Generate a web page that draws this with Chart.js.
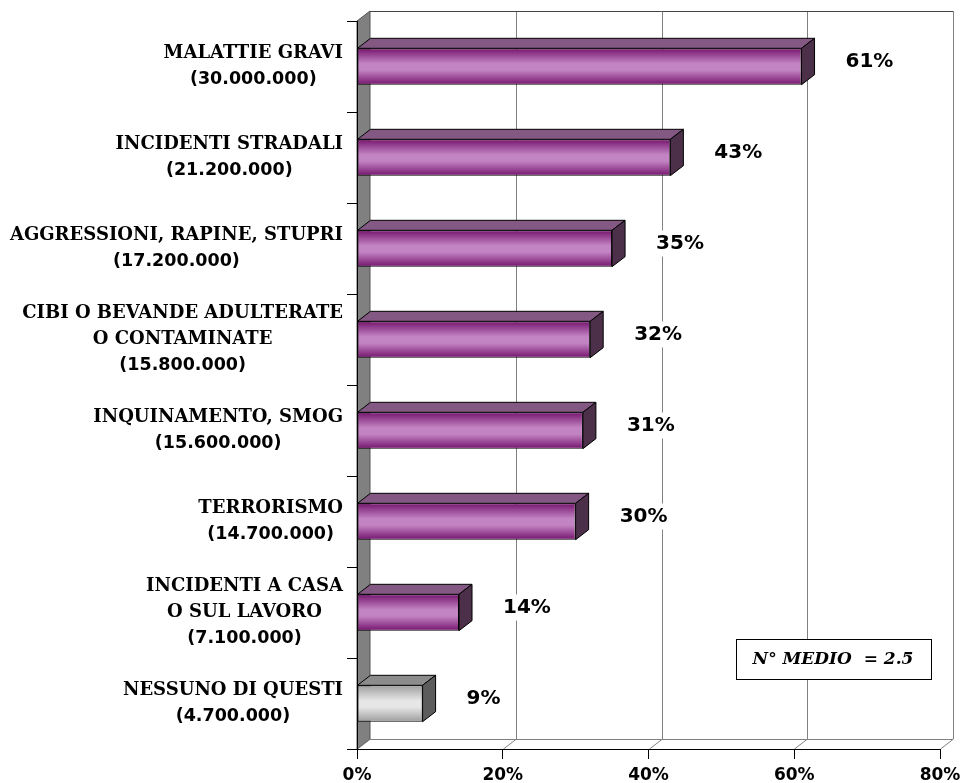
<!DOCTYPE html>
<html>
<head>
<meta charset="utf-8">
<script src="https://cdn.jsdelivr.net/npm/chart.js@4.4.0/dist/chart.umd.min.js"></script>
<style>
  body { margin: 0; background: #fff; }
  #wrap { width: 962px; height: 783px; }
</style>
</head>
<body>
<div id="wrap"><canvas id="myChart"></canvas></div>
<script>
      // data
      const categories = [
        ["MALATTIE GRAVI"],
        ["INCIDENTI STRADALI"],
        ["AGGRESSIONI, RAPINE, STUPRI"],
        ["CIBI O BEVANDE ADULTERATE", "O CONTAMINATE"],
        ["INQUINAMENTO, SMOG"],
        ["TERRORISMO"],
        ["INCIDENTI A CASA", "O SUL LAVORO"],
        ["NESSUNO DI QUESTI"]
      ];
      const counts = ["(30.000.000)", "(21.200.000)", "(17.200.000)", "(15.800.000)",
                      "(15.600.000)", "(14.700.000)", "(7.100.000)", "(4.700.000)"];
      const values = [61, 43, 35, 32, 31, 30, 14, 9];
      const xTicks = [0, 20, 40, 60, 80];
      const note = "N° MEDIO  = 2.5";

      // styles
      const DX = 13, DY = 10;
      const purple = { lo: "#76166f", hi: "#c384c3", top: "#835883", side: "#4c3049" };
      const grey = { lo: "#9e9e9e", hi: "#e6e6e6", top: "#8c8c8c", side: "#5c5c5c" };
      const barStyle = values.map((v, i) => i == values.length - 1 ? grey : purple);

      function frontFill(c) {
        const ch = c.chart, ys = ch.scales.y;
        const st = barStyle[c.dataIndex];
        if (!ys || !ch.chartArea) return st.hi;
        const yc = ys.getPixelForValue(c.dataIndex);
        const g = ch.ctx.createLinearGradient(0, yc - 18, 0, yc + 18);
        g.addColorStop(0, st.lo);
        g.addColorStop(0.42, st.hi);
        g.addColorStop(0.6, st.hi);
        g.addColorStop(1, st.lo);
        return g;
      }

      const box3d = {
        id: "box3d",
        beforeDraw(chart) {
          const ctx = chart.ctx, a = chart.chartArea, xs = chart.scales.x;
          const L = a.left, R = a.right, T = a.top, B = a.bottom;
          ctx.save();
          // back wall
          ctx.fillStyle = "#fff";
          ctx.fillRect(L + DX, T - DY, R - L, B - T);
          // left wall
          ctx.fillStyle = "#808080";
          ctx.beginPath();
          ctx.moveTo(L, T); ctx.lineTo(L + DX, T - DY); ctx.lineTo(L + DX, B - DY); ctx.lineTo(L, B);
          ctx.closePath(); ctx.fill();
          ctx.strokeStyle = "#555"; ctx.lineWidth = 1; ctx.stroke();
          // grid on back wall + floor
          ctx.strokeStyle = "#808080";
          xTicks.forEach(v => {
            const x = Math.round(xs.getPixelForValue(v)) + 0.5;
            ctx.beginPath();
            if (v > 0 && v < 80) { ctx.moveTo(x + DX, T - DY); ctx.lineTo(x + DX, B - DY); }
            ctx.moveTo(x, B); ctx.lineTo(x + DX, B - DY);
            ctx.stroke();
          });
          ctx.beginPath();
          ctx.moveTo(L + DX, B - DY + 0.5); ctx.lineTo(R + DX, B - DY + 0.5);
          ctx.moveTo(R + DX + 0.5, B - DY); ctx.lineTo(R + DX + 0.5, T - DY);
          ctx.stroke();
          ctx.strokeStyle = "#444";
          ctx.beginPath();
          ctx.moveTo(L + DX, T - DY + 0.5); ctx.lineTo(R + DX, T - DY + 0.5);
          ctx.stroke();
          ctx.restore();
        },
        afterDatasetsDraw(chart) {
          const ctx = chart.ctx;
          const meta = chart.getDatasetMeta(0);
          ctx.save();
          ctx.lineWidth = 1;
          ctx.strokeStyle = "#000";
          meta.data.forEach((bar, i) => {
            const st = barStyle[i];
            const x0 = bar.base, x1 = bar.x;
            const top = bar.y - bar.height / 2, bot = bar.y + bar.height / 2;
            // top face
            ctx.fillStyle = st.top;
            ctx.beginPath();
            ctx.moveTo(x0, top); ctx.lineTo(x0 + DX, top - DY); ctx.lineTo(x1 + DX, top - DY); ctx.lineTo(x1, top);
            ctx.closePath(); ctx.fill(); ctx.stroke();
            // right face
            ctx.fillStyle = st.side;
            ctx.beginPath();
            ctx.moveTo(x1, top); ctx.lineTo(x1 + DX, top - DY); ctx.lineTo(x1 + DX, bot - DY); ctx.lineTo(x1, bot);
            ctx.closePath(); ctx.fill(); ctx.stroke();
            // value label
            const txt = values[i] + "%";
            ctx.font = "bold 20px 'DejaVu Sans'";
            const w = ctx.measureText(txt).width;
            const lx = x1 + 44, ly = bar.y - 5;
            ctx.fillStyle = "#fff";
            ctx.fillRect(lx - 3, ly - 13, w + 6, 26);
            ctx.fillStyle = "#000";
            ctx.textBaseline = "middle";
            ctx.textAlign = "left";
            ctx.fillText(txt, lx, ly);
          });
          ctx.restore();
        },
        afterDraw(chart) {
          const ctx = chart.ctx, ys = chart.scales.y;
          ctx.save();
          ctx.fillStyle = "#000";
          ctx.textBaseline = "middle";
          ctx.textAlign = "center";
          const serif = "bold 18px 'DejaVu Serif'", sans = "bold 17.5px 'DejaVu Sans'";
          categories.forEach((lines, i) => {
            const all = lines.map(t => [t, serif]).concat([[counts[i], sans]]);
            let maxW = 0;
            all.forEach(([t, f]) => { ctx.font = f; maxW = Math.max(maxW, ctx.measureText(t).width); });
            const cx = 343 - maxW / 2;
            const yc = ys.getPixelForValue(i);
            const y0 = yc - (all.length - 1) * 26 / 2;
            all.forEach(([t, f], k) => { ctx.font = f; ctx.fillText(t, cx, y0 + k * 26); });
          });
          // note box
          ctx.fillStyle = "#fff";
          ctx.fillRect(736, 639, 195, 40);
          ctx.strokeStyle = "#000";
          ctx.lineWidth = 1;
          ctx.strokeRect(736.5, 639.5, 195, 40);
          ctx.fillStyle = "#000";
          ctx.font = "italic bold 17px 'DejaVu Serif'";
          ctx.fillText(note, 833, 660);
          ctx.restore();
        }
      };

      new Chart("myChart", {
          type: "bar",
          data: {
              labels: categories.map((c, i) => c.join(" ") + " " + counts[i]),
              datasets: [{
                  data: values,
                  backgroundColor: frontFill,
                  borderColor: "#000",
                  borderWidth: 1,
                  borderSkipped: false,
                  barPercentage: 0.4,
                  categoryPercentage: 1
              }]
          },
          plugins: [box3d],
          options: {
              indexAxis: "y",
              responsive: true,
              maintainAspectRatio: false,
              animation: false,
              layout: { padding: { top: 21, right: 22, left: 0, bottom: 0 } },
              plugins: {
                  legend: { display: false },
                  tooltip: { enabled: false }
              },
              scales: {
                  x: {
                      min: 0,
                      max: 80,
                      afterBuildTicks: s => { s.ticks = xTicks.map(v => ({ value: v })); },
                      afterFit: s => { s.height = 34; s.paddingLeft = 0; s.paddingRight = 0; },
                      ticks: {
                          callback: v => v + "%",
                          color: "#000",
                          padding: 6,
                          maxRotation: 0,
                          font: { family: "DejaVu Sans", weight: "bold", size: 17 }
                      },
                      grid: { drawOnChartArea: false, tickLength: 10, color: "#000" },
                      border: { color: "#000" }
                  },
                  y: {
                      afterFit: s => { s.width = 357; },
                      ticks: { display: false },
                      grid: { drawOnChartArea: false, tickLength: 10, color: "#000", offset: true },
                      border: { color: "#000" }
                  }
              }
          }
      });
</script>
</body>
</html>
